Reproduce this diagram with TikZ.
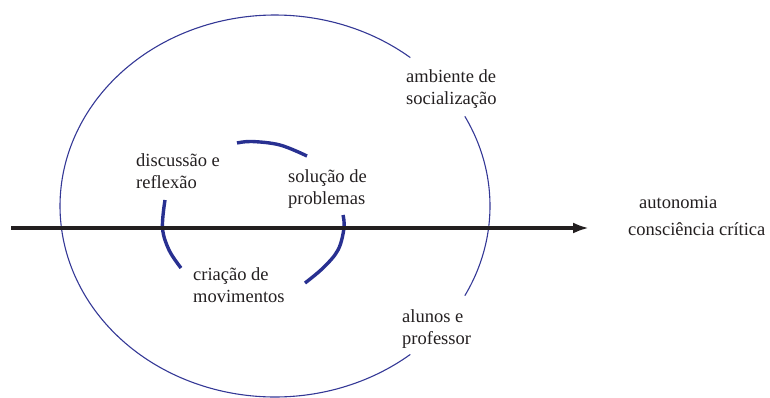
\documentclass[tikz,border=0pt]{standalone}
\usepackage{fontspec}
\setmainfont{Liberation Serif}
\usetikzlibrary{arrows.meta}
\definecolor{ellblue}{RGB}{52,56,150}
\definecolor{spiblue}{RGB}{40,48,145}
\definecolor{ink}{RGB}{35,31,32}
\tikzset{
  lbl/.style={inner sep=0pt, align=left, text=ink, font=\fontsize{18.5}{22}\selectfont},
  ellline/.style={draw=ellblue, line width=1.1pt},
  spiline/.style={draw=spiblue, line width=3.4pt},
  axisline/.style={draw=ink, line width=4pt, -{Latex[length=16pt,width=11pt]}}
}
\begin{document}
\begin{tikzpicture}[x=1pt,y=-1pt]
\useasboundingbox (0,0) rectangle (770,397);
% big ellipse, broken where the labels sit
\draw[ellline] plot[domain=51:309, samples=200] ({275+215*cos(\x)}, {206-191*sin(\x)});
\draw[ellline] plot[domain=-28:28, samples=60] ({275+215*cos(\x)}, {206-191*sin(\x)});
% spiral arcs
\draw[spiline] plot[smooth, tension=0.6] coordinates {(237,143) (252,141.5) (280,145) (307,156)};
\draw[spiline] plot[smooth, tension=0.6] coordinates {(343,215) (344,228) (338,250) (323,268) (305,283)};
\draw[spiline] plot[smooth, tension=0.6] coordinates {(165,200) (162.5,228) (169,250) (181,268)};
% axis
\coordinate (axs) at (11,228);
\coordinate (axe) at (589,228);
\draw[axisline] (axs) -- (axe);
% labels (base anchor = baseline of the last line)
\node[lbl, anchor=base west] (amb) at (406,104.5) {ambiente de\\socialização};
\node[lbl, anchor=base west] (disc) at (136,188) {discussão e\\reflexão};
\node[lbl, anchor=base west] (sol) at (288,204) {solução de\\problemas};
\node[lbl, anchor=base west] (cri) at (193,302) {criação de\\movimentos};
\node[lbl, anchor=base west] (alu) at (402,344.5) {alunos e\\professor};
\node[lbl, anchor=base west] (aut) at (639,208) {autonomia};
\node[lbl, anchor=base west] (cons) at (628,235) {consciência crítica};
\end{tikzpicture}
\end{document}
